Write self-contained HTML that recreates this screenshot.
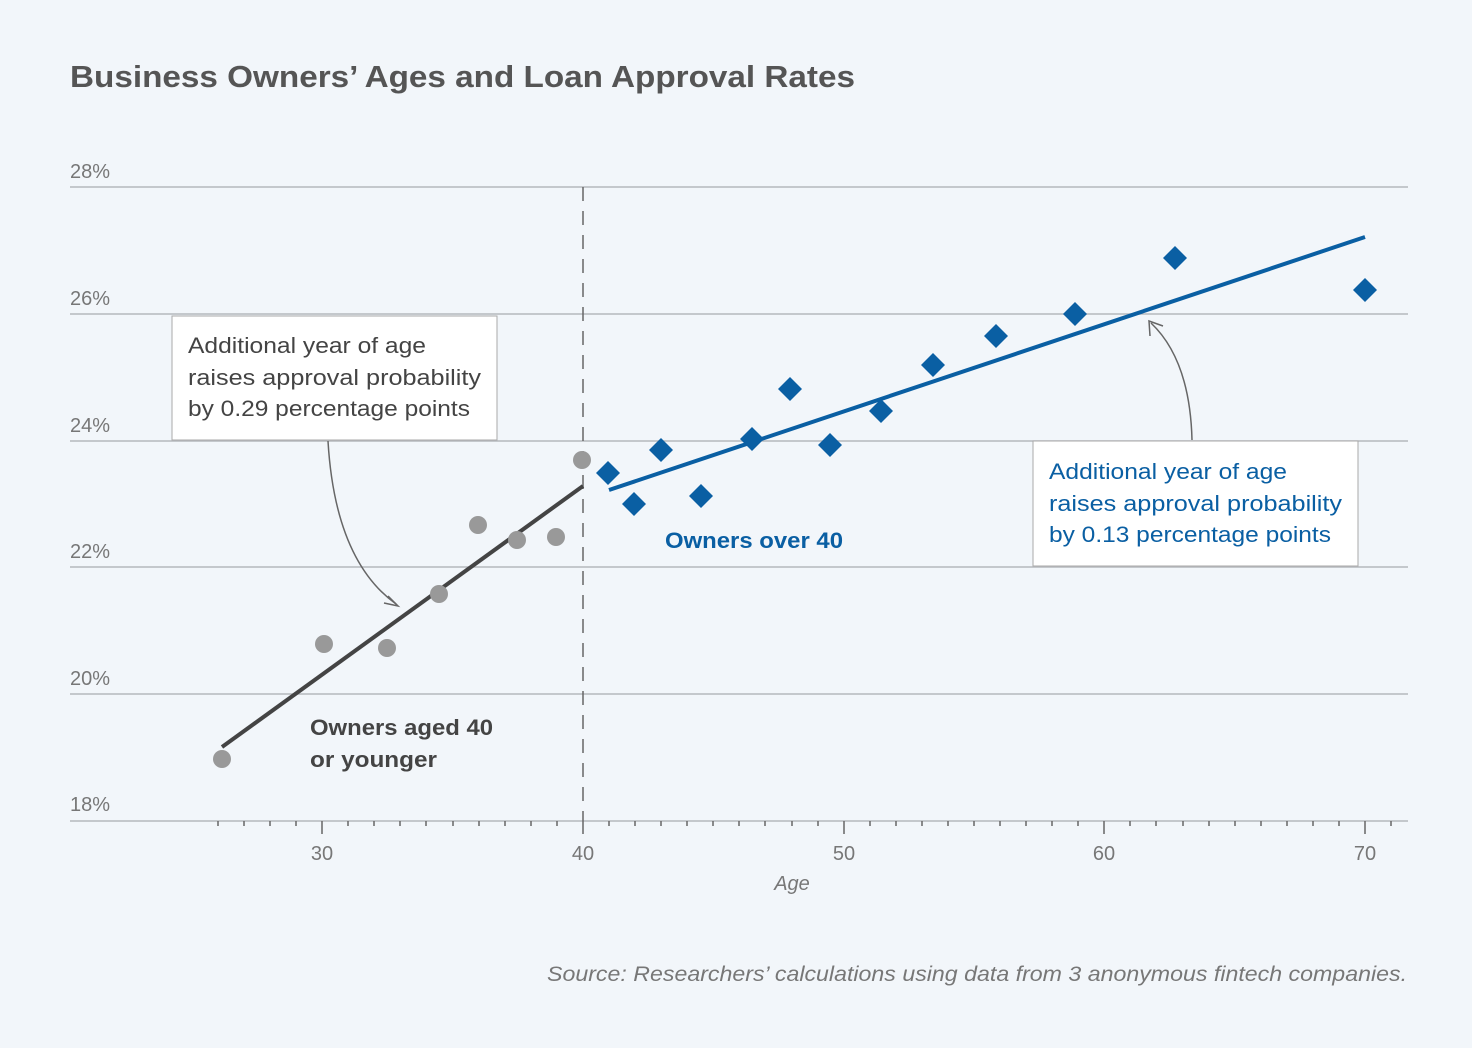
<!DOCTYPE html>
<html><head><style>
body{margin:0;background:#f2f6fa;}
svg{display:block;font-family:"Liberation Sans",sans-serif;}
</style></head><body>
<svg width="1472" height="1048" viewBox="0 0 1472 1048">
<rect width="1472" height="1048" fill="#f2f6fa"/>
<text x="70" y="87" font-size="31" font-weight="bold" fill="#555" textLength="785" lengthAdjust="spacingAndGlyphs">Business Owners’ Ages and Loan Approval Rates</text>
<g stroke="#b5b8bd" stroke-width="1.5">
<line x1="70" y1="187" x2="1408" y2="187"/><line x1="70" y1="314" x2="1408" y2="314"/>
<line x1="70" y1="441" x2="1408" y2="441"/><line x1="70" y1="567" x2="1408" y2="567"/>
<line x1="70" y1="694" x2="1408" y2="694"/><line x1="70" y1="821" x2="1408" y2="821"/>
</g>
<g font-size="20" fill="#777">
<text x="70" y="178">28%</text><text x="70" y="305">26%</text><text x="70" y="432">24%</text>
<text x="70" y="558">22%</text><text x="70" y="685">20%</text><text x="70" y="811">18%</text>
</g>
<g font-size="20" fill="#777" text-anchor="middle">
<text x="322" y="860">30</text><text x="583" y="860">40</text><text x="844" y="860">50</text><text x="1104" y="860">60</text><text x="1365" y="860">70</text>
<text x="792" y="890" font-style="italic">Age</text>
</g>
<line x1="583" y1="187" x2="583" y2="821" stroke="#666" stroke-width="1.5" stroke-dasharray="14,10"/>
<line x1="222" y1="747" x2="583" y2="486" stroke="#444" stroke-width="4"/>
<line x1="609" y1="490" x2="1365" y2="237" stroke="#0a5fa3" stroke-width="4"/>
<g fill="#999">
<circle cx="222" cy="759" r="9"/><circle cx="324" cy="644" r="9"/><circle cx="387" cy="648" r="9"/>
<circle cx="439" cy="594" r="9"/><circle cx="478" cy="525" r="9"/><circle cx="517" cy="540" r="9"/>
<circle cx="556" cy="537" r="9"/><circle cx="582" cy="460" r="9"/>
</g>
<g fill="#0a5fa3">
<path d="M0,-12 L12,0 L0,12 L-12,0Z" transform="translate(608,473)"/>
<path d="M0,-12 L12,0 L0,12 L-12,0Z" transform="translate(634,504)"/>
<path d="M0,-12 L12,0 L0,12 L-12,0Z" transform="translate(661,450)"/>
<path d="M0,-12 L12,0 L0,12 L-12,0Z" transform="translate(701,496)"/>
<path d="M0,-12 L12,0 L0,12 L-12,0Z" transform="translate(752,439)"/>
<path d="M0,-12 L12,0 L0,12 L-12,0Z" transform="translate(790,389)"/>
<path d="M0,-12 L12,0 L0,12 L-12,0Z" transform="translate(830,445)"/>
<path d="M0,-12 L12,0 L0,12 L-12,0Z" transform="translate(881,411)"/>
<path d="M0,-12 L12,0 L0,12 L-12,0Z" transform="translate(933,365)"/>
<path d="M0,-12 L12,0 L0,12 L-12,0Z" transform="translate(996,336)"/>
<path d="M0,-12 L12,0 L0,12 L-12,0Z" transform="translate(1075,314)"/>
<path d="M0,-12 L12,0 L0,12 L-12,0Z" transform="translate(1175,258)"/>
<path d="M0,-12 L12,0 L0,12 L-12,0Z" transform="translate(1365,290)"/>
</g>
<text x="310" y="735" font-size="22" font-weight="bold" fill="#444" textLength="183" lengthAdjust="spacingAndGlyphs">Owners aged 40</text>
<text x="310" y="767" font-size="22" font-weight="bold" fill="#444" textLength="127" lengthAdjust="spacingAndGlyphs">or younger</text>
<text x="665" y="548" font-size="22" font-weight="bold" fill="#0a5fa3" textLength="178" lengthAdjust="spacingAndGlyphs">Owners over 40</text>
<rect x="172" y="316" width="325" height="124" fill="#fff" stroke="#aaa" stroke-width="1"/>
<g font-size="22" fill="#444"><text x="188" y="353" textLength="238" lengthAdjust="spacingAndGlyphs">Additional year of age</text><text x="188" y="385" textLength="293" lengthAdjust="spacingAndGlyphs">raises approval probability</text><text x="188" y="416" textLength="282" lengthAdjust="spacingAndGlyphs">by 0.29 percentage points</text></g>
<rect x="1033" y="441" width="325" height="125" fill="#fff" stroke="#aaa" stroke-width="1"/>
<g font-size="22" fill="#0a5fa3"><text x="1049" y="479" textLength="238" lengthAdjust="spacingAndGlyphs">Additional year of age</text><text x="1049" y="511" textLength="293" lengthAdjust="spacingAndGlyphs">raises approval probability</text><text x="1049" y="542" textLength="282" lengthAdjust="spacingAndGlyphs">by 0.13 percentage points</text></g>
<g fill="none" stroke="#666" stroke-width="1.5">
<path d="M328,441 Q335,560 396,604"/><path d="M388,596 L398,606 L384,603"/>
<path d="M1192,440 Q1190,360 1151,323"/><path d="M1150,336 L1149,321 L1163,326"/>
</g>
<text x="1407" y="981" font-size="21" font-style="italic" fill="#777" text-anchor="end" textLength="860" lengthAdjust="spacingAndGlyphs">Source: Researchers’ calculations using data from 3 anonymous fintech companies.</text>
<g stroke="#666" stroke-width="1.5">
<line x1="218" y1="821" x2="218" y2="826"/><line x1="244" y1="821" x2="244" y2="826"/><line x1="270" y1="821" x2="270" y2="826"/><line x1="296" y1="821" x2="296" y2="826"/><line x1="322" y1="821" x2="322" y2="834"/>
<line x1="348" y1="821" x2="348" y2="826"/><line x1="374" y1="821" x2="374" y2="826"/><line x1="400" y1="821" x2="400" y2="826"/><line x1="426" y1="821" x2="426" y2="826"/><line x1="453" y1="821" x2="453" y2="826"/><line x1="479" y1="821" x2="479" y2="826"/><line x1="505" y1="821" x2="505" y2="826"/><line x1="531" y1="821" x2="531" y2="826"/><line x1="557" y1="821" x2="557" y2="826"/><line x1="583" y1="821" x2="583" y2="834"/>
<line x1="609" y1="821" x2="609" y2="826"/><line x1="635" y1="821" x2="635" y2="826"/><line x1="661" y1="821" x2="661" y2="826"/><line x1="687" y1="821" x2="687" y2="826"/><line x1="713" y1="821" x2="713" y2="826"/><line x1="739" y1="821" x2="739" y2="826"/><line x1="765" y1="821" x2="765" y2="826"/><line x1="792" y1="821" x2="792" y2="826"/><line x1="818" y1="821" x2="818" y2="826"/><line x1="844" y1="821" x2="844" y2="834"/>
<line x1="870" y1="821" x2="870" y2="826"/><line x1="896" y1="821" x2="896" y2="826"/><line x1="922" y1="821" x2="922" y2="826"/><line x1="948" y1="821" x2="948" y2="826"/><line x1="974" y1="821" x2="974" y2="826"/><line x1="1000" y1="821" x2="1000" y2="826"/><line x1="1026" y1="821" x2="1026" y2="826"/><line x1="1052" y1="821" x2="1052" y2="826"/><line x1="1078" y1="821" x2="1078" y2="826"/><line x1="1104" y1="821" x2="1104" y2="834"/>
<line x1="1130" y1="821" x2="1130" y2="826"/><line x1="1156" y1="821" x2="1156" y2="826"/><line x1="1183" y1="821" x2="1183" y2="826"/><line x1="1209" y1="821" x2="1209" y2="826"/><line x1="1235" y1="821" x2="1235" y2="826"/><line x1="1261" y1="821" x2="1261" y2="826"/><line x1="1287" y1="821" x2="1287" y2="826"/><line x1="1313" y1="821" x2="1313" y2="826"/><line x1="1339" y1="821" x2="1339" y2="826"/><line x1="1365" y1="821" x2="1365" y2="834"/><line x1="1391" y1="821" x2="1391" y2="826"/>
</g>
</svg>
</body></html>
